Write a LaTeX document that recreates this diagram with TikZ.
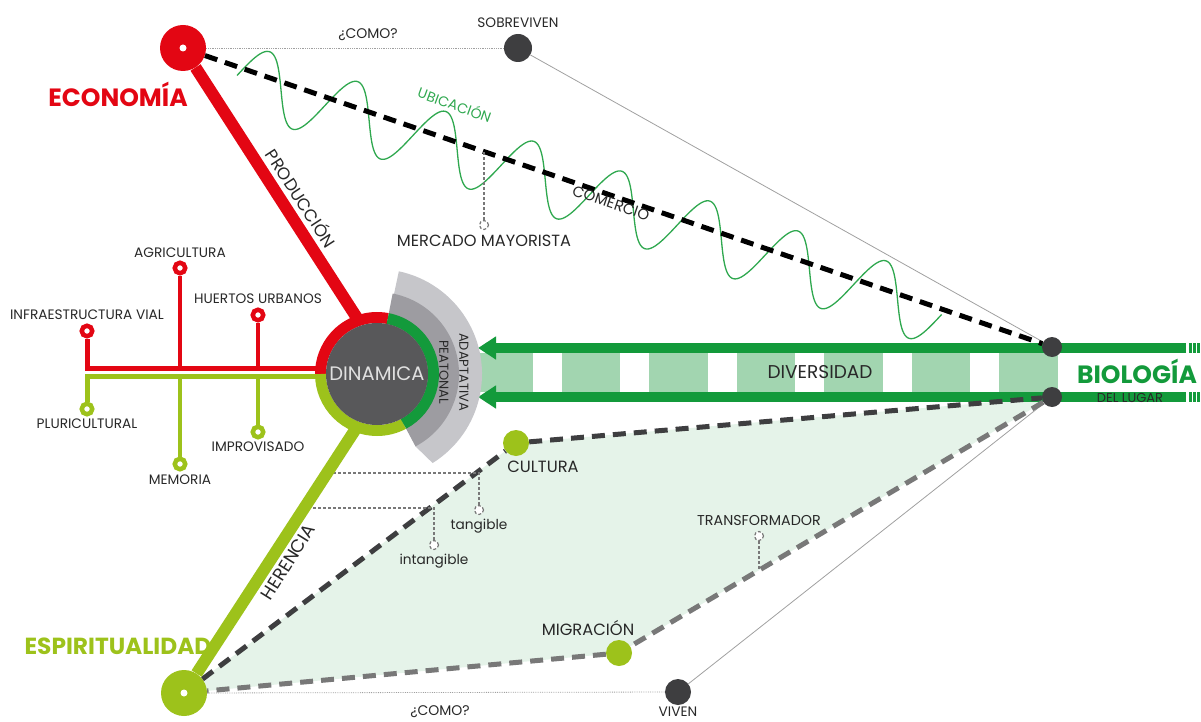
\documentclass[tikz,border=0pt]{standalone}
\usepackage{fontspec}
\setmainfont{Poppins}
\usetikzlibrary{arrows.meta,positioning,calc,backgrounds}
\definecolor{rojo}{RGB}{227,6,19}
\definecolor{lima}{RGB}{157,194,27}
\definecolor{verde}{RGB}{19,154,59}
\definecolor{verdeclaro}{RGB}{162,213,176}
\definecolor{verdefondo}{RGB}{229,243,233}
\definecolor{onda}{RGB}{47,168,79}
\definecolor{oscuro}{RGB}{62,62,64}
\definecolor{disco}{RGB}{88,88,90}
\definecolor{grisA}{RGB}{157,156,161}
\definecolor{grisB}{RGB}{198,198,202}
\definecolor{grisT}{RGB}{120,120,120}
\definecolor{tinta}{RGB}{40,40,40}
\tikzset{
    polo/.style={circle, fill=#1, minimum size=46pt, inner sep=0pt},
    punto/.style={circle, fill=oscuro, minimum size=#1, inner sep=0pt},
    hoja/.style={circle, draw=#1, fill=white, line width=4.5pt, minimum size=10.5pt, inner sep=0pt},
    hueco/.style={circle, draw=grisT, fill=white, densely dashed, line width=1.2pt, minimum size=9pt, inner sep=0pt},
    etiqueta/.style={text=tinta, inner sep=0pt, font=\fontsize{#1}{#1}\selectfont},
    titulo/.style={text=#1, inner sep=0pt, font=\fontsize{25}{25}\selectfont\bfseries},
    eje/.style={line width=12pt, #1},
    rama/.style={line width=5pt, #1},
    trazo/.style={line width=5pt, dash pattern=on 13pt off 8pt, #1},
    fino/.style={line width=0.8pt, grisT!70},
    guia/.style={line width=1.2pt, grisT, densely dashed},
    flecha/.style={line width=10pt, verde, -{Triangle[length=18pt, width=22pt]}}
}

\begin{document}
\begin{tikzpicture}[x=1pt, y=-1pt]
\useasboundingbox (0,0) rectangle (1201,722);

% polos
\node[polo=rojo] (eco) at (183,48) {};
\fill[white] (eco) circle (3.5pt);
\node[polo=lima] (esp) at (184,693) {};
\fill[white] (esp) circle (3.5pt);
\node[punto=28pt] (sob) at (518,48) {};
\node[punto=26pt] (viv) at (678,692) {};
\node[circle, fill=lima, minimum size=26pt, inner sep=0pt] (cul) at (516,443) {};
\node[circle, fill=lima, minimum size=26pt, inner sep=0pt] (mig) at (619,653) {};

% banda de diversidad
\fill[verdeclaro] (465,353) rectangle (1058,392);
\foreach \k in {0,...,5}
    \fill[white] ({533+87.4*\k},353) rectangle ++(29,39);
\coordinate (fa) at (1186,348);
\coordinate (ta) at (478,348);
\coordinate (fb) at (1186,397);
\coordinate (tb) at (478,397);
\draw[flecha] (fa) -- (ta);
\draw[flecha] (fb) -- (tb);
\foreach \x in {1189,1193,1197} {
    \fill[verde] (\x,343) rectangle ++(2.5,10);
    \fill[verde] (\x,392) rectangle ++(2.5,10);
}
\node[punto=20pt] (bioA) at (1052,347) {};
\node[punto=20pt] (bioB) at (1052,397) {};

% zona de cultura
\begin{scope}[on background layer]
    \fill[verdefondo] (esp.center) -- (cul.center) -- (bioB.center) -- (mig.center) -- cycle;
\end{scope}

% lineas finas
\draw[fino, densely dotted] (eco) -- (sob);
\draw[fino] (sob) -- (bioA);
\draw[fino, densely dotted] (esp) -- (viv);
\draw[fino] (viv) -- (bioB);

% onda de ubicacion
\draw[onda, line width=1.3pt] plot[domain=0:744, samples=400, smooth, variable=\t]
    ({237+0.947*\t+0.3213*33*sin(\t/93*360)}, {75.5+0.3213*\t-0.947*33*sin(\t/93*360)});

% lineas discontinuas
\draw[trazo=black] (eco) -- (bioA);
\draw[trazo=oscuro] (esp) -- (cul);
\draw[trazo=oscuro] (cul) -- (bioB);
\draw[trazo=grisT] (bioB) -- (mig);
\draw[trazo=grisT] (mig) -- (esp);

% guias
\coordinate (m) at ($(eco)!0.3464!(bioA)$);
\node[hueco] (merc) at (484,225) {};
\draw[guia] (merc) -- (merc |- m);
\coordinate (hc) at (355,430);
\coordinate (tg) at ($(esp)!0.88!(cul)$);
\coordinate (itg) at ($(esp)!0.74!(cul)$);
\coordinate (h1) at ($(esp)!0.84!(hc)$);
\coordinate (h2) at ($(esp)!0.71!(hc)$);
\node[hueco] (tgc) at (479,510) {};
\node[hueco] (itc) at (434,545) {};
\draw[guia] (tgc) -- (tgc |- tg) -- (h1 |- tg);
\draw[guia] (itc) -- (itc |- itg) -- (h2 |- itg);
\coordinate (tr) at ($(mig)!0.3233!(bioB)$);
\node[hueco] (trc) at (759,536) {};
\draw[guia] (trc) -- (trc |- tr);

% ejes
\coordinate (pc) at (357,318);
\draw[eje=rojo] (eco) -- (pc);
\draw[eje=lima] (esp) -- (hc);

% ramas
\node[hoja=rojo] (infra) at (87,331) {};
\node[hoja=rojo] (agri) at (180,268) {};
\node[hoja=rojo] (huer) at (258,315) {};
\node[hoja=lima] (pluri) at (87,409) {};
\node[hoja=lima] (memo) at (180,464) {};
\node[hoja=lima] (impro) at (258,432) {};
\coordinate (r0) at (87,368.5);
\coordinate (r1) at (322,368.5);
\coordinate (l0) at (87,376);
\coordinate (l1) at (322,376);
\draw[rama=rojo] (r1) -- (r0) -- (infra);
\draw[rama=rojo, line width=4.5pt] (agri) -- (agri |- r0);
\draw[rama=rojo, line width=4.5pt] (huer) -- (huer |- r0);
\draw[rama=lima] (l1) -- (l0) -- (pluri);
\draw[rama=lima, line width=4.5pt] (memo) -- (memo |- l0);
\draw[rama=lima, line width=4.5pt] (impro) -- (impro |- l0);

% dinamica
\coordinate (dc) at (377,374);
\begin{scope}[shift={(dc)}, y=1pt]
    \fill[grisB] (-62:82) -- (-58:105) arc[start angle=-58, end angle=78, radius=105] -- (78:82) -- cycle;
    \fill[grisA] (0,0) -- (-62:82) arc[start angle=-62, end angle=79, radius=82] -- cycle;
    \draw[line width=11pt, rojo] (79:56.5) arc[start angle=79, end angle=180, radius=56.5];
    \draw[line width=11pt, lima] (180:56.5) arc[start angle=180, end angle=298, radius=56.5];
    \draw[line width=11pt, verde] (-62:56.5) arc[start angle=-62, end angle=79, radius=56.5];
\end{scope}
\node[circle, fill=disco, minimum size=102pt, inner sep=0pt, text=white!88!black,
      font=\fontsize{19.5}{19.5}\selectfont] (din) at (dc) {DINAMICA};
\node[etiqueta=13, rotate=-90] (peat) at (444,372) {PEATONAL};
\node[etiqueta=13, rotate=-90] (adap) at (464,372) {ADAPTATIVA};

% textos
\node[titulo=rojo] (teco) at (118,94) {ECONOMÍA};
\node[titulo=lima, font=\fontsize{23.3}{23.3}\selectfont\bfseries] (tesp) at (118,646) {ESPIRITUALIDAD};
\node[titulo=verde] (tbio) at (1137,371) {BIOLOGÍA};
\node[etiqueta=13] (tlug) at (1130,398) {DEL LUGAR};
\node[etiqueta=18.5] (tdiv) at (820,372) {DIVERSIDAD};
\node[etiqueta=14] (como1) at (368,35) {¿COMO?};
\node[etiqueta=14] (como2) at (440,712) {¿COMO?};
\node[etiqueta=13.7, above=6pt of sob] (tsob) {SOBREVIVEN};
\node[etiqueta=13.7, below=2pt of viv] (tviv) {VIVEN};
\node[etiqueta=14, text=onda, rotate=-20] (tubi) at (455,104) {UBICACIÓN};
\node[etiqueta=15, rotate=-18.7] (tcom) at (611,203) {COMERCIO};
\node[etiqueta=16.2, below=5pt of merc] (tmer) {MERCADO MAYORISTA};
\node[etiqueta=17, rotate=-57] (tpro) at (302,198) {PRODUCCIÓN};
\node[etiqueta=18, rotate=58] (ther) at (288,562) {HERENCIA};
\node[etiqueta=13.7, above=4pt of infra] (tinf) {INFRAESTRUCTURA VIAL};
\node[etiqueta=13.7, above=3pt of agri] (tagr) {AGRICULTURA};
\node[etiqueta=13.7, above=4pt of huer] (thue) {HUERTOS URBANOS};
\node[etiqueta=13.7, below=2pt of pluri] (tplu) {PLURICULTURAL};
\node[etiqueta=13.7, below=3pt of memo] (tmem) {MEMORIA};
\node[etiqueta=13.7, below=2pt of impro] (timp) {IMPROVISADO};
\node[etiqueta=16.3] (tcul) at (543,467) {CULTURA};
\node[etiqueta=16.3] (tmig) at (588,628) {MIGRACIÓN};
\node[etiqueta=14.3, above=5pt of trc] (ttra) {TRANSFORMADOR};
\node[etiqueta=13.7, below=4pt of tgc] (ttan) {tangible};
\node[etiqueta=13.7, below=4pt of itc] (tint) {intangible};
\end{tikzpicture}
\end{document}
